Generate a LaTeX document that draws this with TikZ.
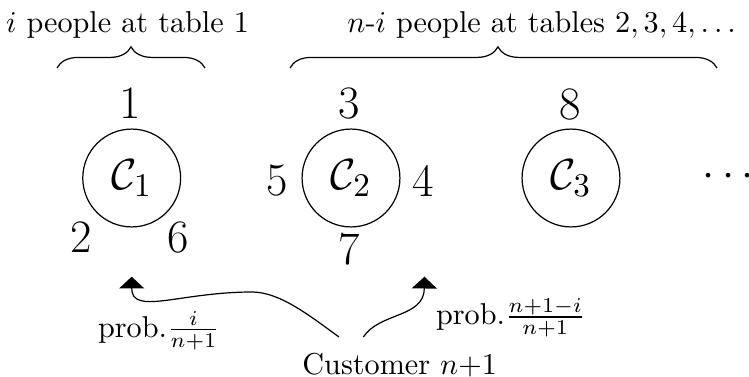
\documentclass[tikz,border=0pt]{standalone}
\usetikzlibrary{arrows.meta,decorations.pathreplacing}
\begin{document}
\begin{tikzpicture}[x=0.3311pt,y=-0.3311pt,
  tab/.style={circle,draw,line width=0.4pt,minimum size=32.4pt,inner sep=0pt,font=\fontsize{15.4}{18}\selectfont},
  num/.style={inner sep=0pt,font=\fontsize{15.4}{18}\selectfont},
  lbl/.style={inner sep=0pt,anchor=base},
  lblw/.style={inner sep=0pt,anchor=base west},
  br/.style={decorate,decoration={brace,amplitude=7pt,aspect=#1},line width=0.4pt},
  br/.default=0.5,
  arr/.style={-{Triangle[width=8.3pt,length=3.9pt]},line width=0.4pt}]
\useasboundingbox (0,0) rectangle (749,376);
% tables
\node[tab] (c1) at (131.7,178) {$\mathcal{C}_1$};
\node[tab] (c2) at (351,178) {$\mathcal{C}_2$};
\node[tab] (c3) at (571,178) {$\mathcal{C}_3$};
\node[num,font=\fontsize{13.8}{16}\selectfont] (dots) at (728.3,177) {$\cdots$};
% customers
\node[num] (n1) at (130,103) {1};
\node[num] (n2) at (81,237.5) {2};
\node[num] (n6) at (178,237.5) {6};
\node[num] (n3) at (349,103) {3};
\node[num] (n5) at (277,181) {5};
\node[num] (n4) at (422.7,181) {4};
\node[num] (n7) at (349,249) {7};
\node[num] (n8) at (570,104) {8};
% braces
\coordinate (b1a) at (57,68);
\coordinate (b1b) at (205,68);
\coordinate (b2a) at (290,68);
\coordinate (b2b) at (717,68);
\draw[br] (b1a) -- (b1b);
\draw[br=0.487] (b2a) -- (b2b);
\node[lbl] (t1) at (127.5,32.5) {$i$ people at table 1};
\node[lbl] (t2) at (541.7,32.5) {$n$-$i$ people at tables $2,3,4,\ldots$};
% new customer
\node[lbl] (cust) at (399.7,374.5) {Customer $n{+}1$};
\coordinate (s1) at (339,337);
\coordinate (s2) at (363.3,337);
\coordinate (e1) at (131.7,276.7);
\coordinate (e2) at (424.5,276.7);
\draw[arr] (s1) .. controls (310,316) and (280,292) .. (252,292)
  .. controls (180,292) and (131.7,316) .. (e1);
\draw[arr] (s2) .. controls (380,312) and (424,318) .. (e2);
\node[lblw] (p1) at (97.5,337) {prob.$\frac{i}{n+1}$};
\node[lblw] (p2) at (435.5,324.5) {prob.$\frac{n+1-i}{n+1}$};
\end{tikzpicture}
\end{document}
